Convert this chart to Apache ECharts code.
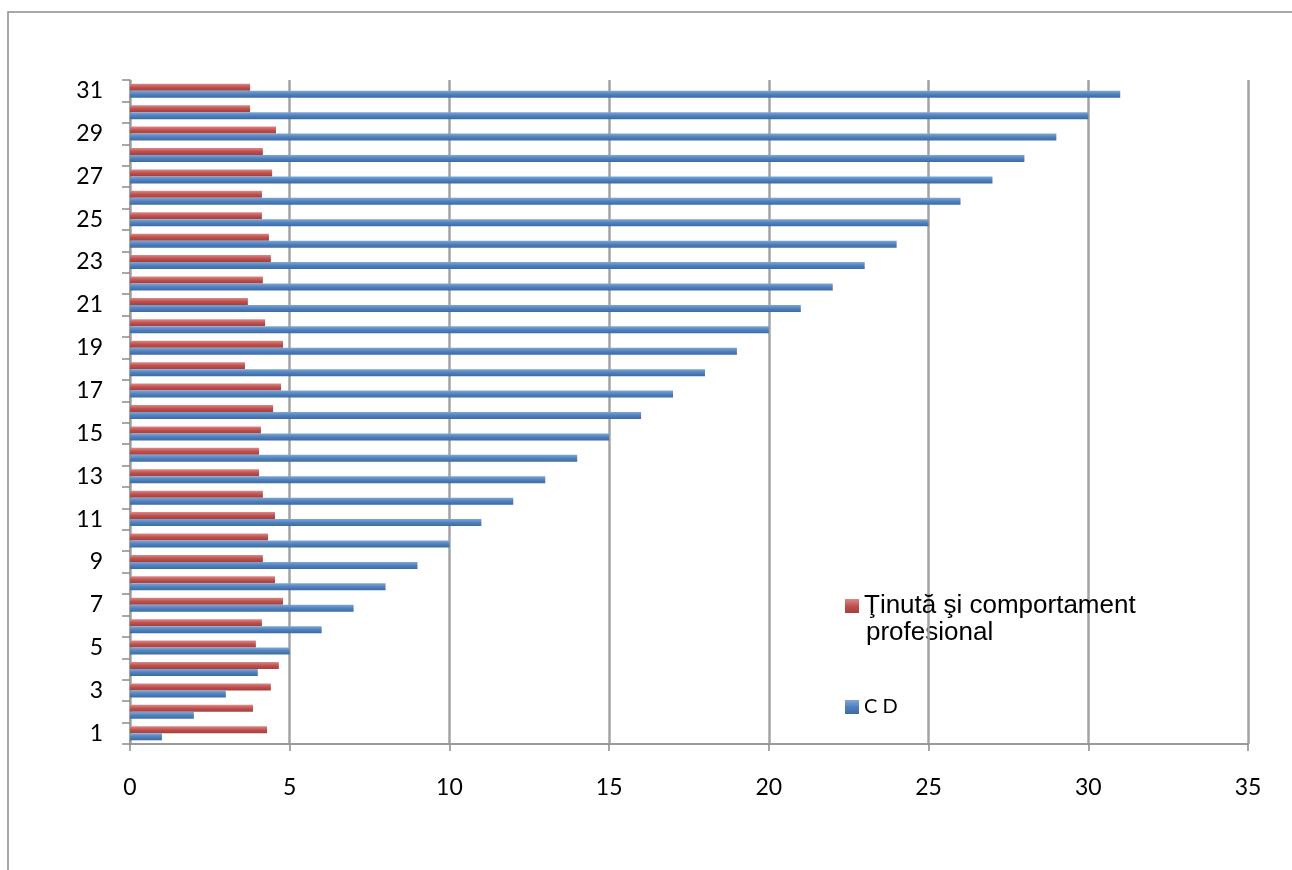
<!DOCTYPE html>
<html>
<head>
<meta charset="utf-8">
<script src="https://cdn.jsdelivr.net/npm/echarts@6/dist/echarts.min.js"></script>
<style>
html,body{margin:0;padding:0;background:#fff;}
#chart{width:1292px;height:870px;}
</style>
</head>
<body>
<div id="chart"></div>
<script>
const categories = ['1','2','3','4','5','6','7','8','9','10','11','12','13','14','15','16','17','18','19','20','21','22','23','24','25','26','27','28','29','30','31'];
const cdValues = [1,2,3,4,5,6,7,8,9,10,11,12,13,14,15,16,17,18,19,20,21,22,23,24,25,26,27,28,29,30,31];
const tinutaValues = [4.29,3.85,4.41,4.66,3.94,4.13,4.79,4.54,4.16,4.32,4.54,4.16,4.04,4.04,4.10,4.48,4.73,3.60,4.79,4.23,3.69,4.16,4.41,4.35,4.13,4.13,4.45,4.16,4.57,3.76,3.76];
const xTicks = [0,5,10,15,20,25,30,35];
const seriesNames = ['Ţinută şi comportament profesional', 'C D'];

const RED = '#C0504D', BLUE = '#4F81BD';
function grad(c1, c2, c3){
  return new echarts.graphic.LinearGradient(0,0,0,1,[
    {offset:0,color:c1},{offset:0.5,color:c2},{offset:1,color:c3}]);
}

const chart = echarts.init(document.getElementById('chart'));
chart.setOption({
  animation:false,
  backgroundColor:'#fff',
  graphic:[{
    type:'polyline', silent:true,
    shape:{points:[[8,900],[8,12],[1300,12]]},
    style:{stroke:'#8c8c8c', lineWidth:1.5, fill:null}
  },{
    type:'text', silent:true, left:866, top:620,
    style:{text:'profesional', font:'26px "Liberation Sans"', fill:'#000'}
  }],
  grid:{left:130, right:44, top:80, bottom:126, containLabel:false},
  legend:[{
    data:[seriesNames[0]],
    orient:'vertical', left:840, top:588,
    itemWidth:14, itemHeight:14,
    icon:'rect',
    formatter:function(){return 'Ţinută şi comportament';},
    textStyle:{fontFamily:'Liberation Sans', fontSize:26, color:'#000'}
  },{
    data:[seriesNames[1]],
    orient:'vertical', left:840, top:692,
    itemWidth:14, itemHeight:14,
    icon:'rect',
    textStyle:{fontFamily:'Lato', fontSize:20, color:'#000'}
  }],
  xAxis:{
    type:'value', min:0, max:35, interval:5,
    axisLine:{show:true, lineStyle:{color:'#9a9a9a', width:2}},
    axisTick:{show:true, length:7, lineStyle:{color:'#8a8a8a', width:1.5}},
    axisLabel:{color:'#000', fontFamily:'Lato', fontSize:23, margin:32,
      formatter:function(v){return xTicks.indexOf(v)>=0 ? String(v) : '';}},
    splitLine:{show:true, lineStyle:{color:'#a3a3a3', width:2.5}}
  },
  yAxis:{
    type:'category', data:categories,
    axisLine:{show:true, lineStyle:{color:'#9a9a9a', width:1.5}},
    axisTick:{show:true, length:8, interval:0, lineStyle:{color:'#8a8a8a', width:1.5}},
    axisLabel:{interval:1, color:'#000', fontFamily:'Lato', fontSize:23, margin:27, padding:[4,0,0,0]},
    splitLine:{show:false}
  },
  series:[{
    name:seriesNames[0], type:'bar', data:tinutaValues,
    barWidth:7, barGap:'0%',
    itemStyle:{color:grad('#d98a88', RED, '#a23f3c')}
  },{
    name:seriesNames[1], type:'bar', data:cdValues,
    barWidth:7, barGap:'0%',
    itemStyle:{color:grad('#7fa6d6', BLUE, '#3d6aa3')}
  }]
});
</script>
</body>
</html>
